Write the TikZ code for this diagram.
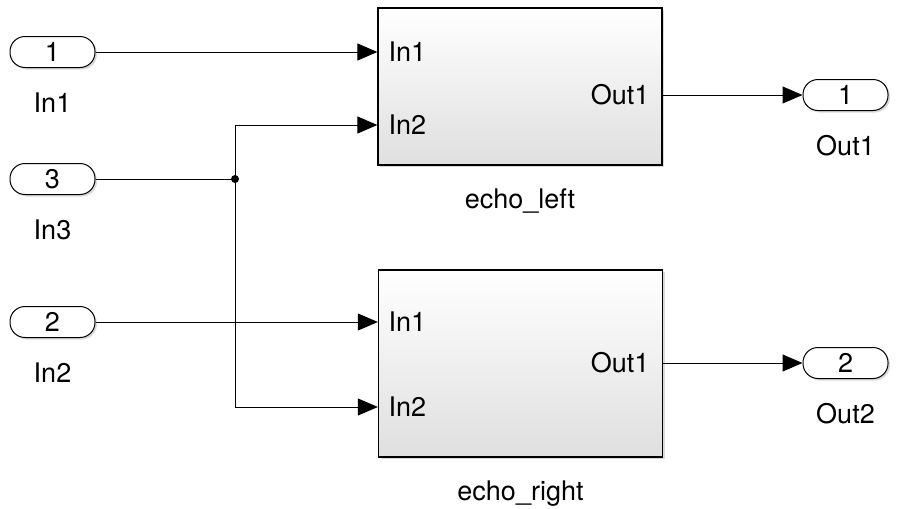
\documentclass[tikz,border=0pt]{standalone}
\usepackage{fontspec}
\setmainfont{TeX Gyre Heros}
\usetikzlibrary{positioning,shadows,arrows.meta}

\begin{document}
\begin{tikzpicture}[%
        x = 1pt,
        y = -1pt,
        line width = 1pt,
        font = \fontsize{27}{30}\selectfont,
        >={Triangle[length=20pt,width=17pt]},
        port/.style = {
            draw = black,
            fill = white,
            rounded corners = 15pt,
            minimum width = 85pt,
            minimum height = 31pt,
            inner sep = 0pt,
            drop shadow = {shadow xshift=2pt, shadow yshift=-2pt, opacity=0.3}
        },
        block/.style = {
            draw = black,
            line width = 1.3pt,
            top color = white,
            bottom color = gray!25,
            minimum width = 284pt,
            inner sep = 0pt,
            drop shadow = {shadow xshift=2pt, shadow yshift=-2pt, opacity=0.3}
        },
        caption/.style = {inner sep = 0pt},
        portlabel/.style = {inner sep = 0pt}
    ]

        \useasboundingbox (0,0) rectangle (911,509);

        % Inports and outports.
        \node[port] (in1) at (52.5,52) {1};
        \node[port] (in3) at (52.5,179) {3};
        \node[port] (in2) at (52.5,322) {2};
        \node[port] (out1) at (845.5,95) {1};
        \node[port] (out2) at (845.5,363) {2};

        % Names under the ports.
        \node[caption, below=24pt of in1] {In1};
        \node[caption, below=24pt of in3] {In3};
        \node[caption, below=24pt of in2] {In2};
        \node[caption, below=24pt of out1] {Out1};
        \node[caption, below=24pt of out2] {Out2};

        % The two subsystems.
        \node[block, minimum height=157pt] (left) at (520,86.5) {};
        \node[block, minimum height=187pt] (right) at (520.5,363.5) {};
        \node[caption, below=23pt of left] {echo\_left};
        \node[caption, below=23pt of right] {echo\_right};

        % Port labels inside the subsystems.
        \node[portlabel, anchor=west] (left-in1) at (388,52) {In1};
        \node[portlabel, anchor=west] (left-in2) at (388,125) {In2};
        \node[portlabel, anchor=east] (left-out1) at (650,95) {Out1};
        \node[portlabel, anchor=west] (right-in1) at (388,322) {In1};
        \node[portlabel, anchor=west] (right-in2) at (388,407) {In2};
        \node[portlabel, anchor=east] (right-out1) at (650,363) {Out1};

        % Branch point of In3.
        \coordinate (split) at (235,179);
        \fill (split) circle (4pt);

        % Signal lines.
        \draw[->] (in1) -- (left.west |- left-in1);
        \draw[->] (in2) -- (right.west |- right-in1);
        \draw (in3) -- (split);
        \draw[->] (split) |- (left.west |- left-in2);
        \draw[->] (split) |- (right.west |- right-in2);
        \draw[->] (left.east |- left-out1) -- (out1);
        \draw[->] (right.east |- right-out1) -- (out2);
    \end{tikzpicture}
\end{document}
